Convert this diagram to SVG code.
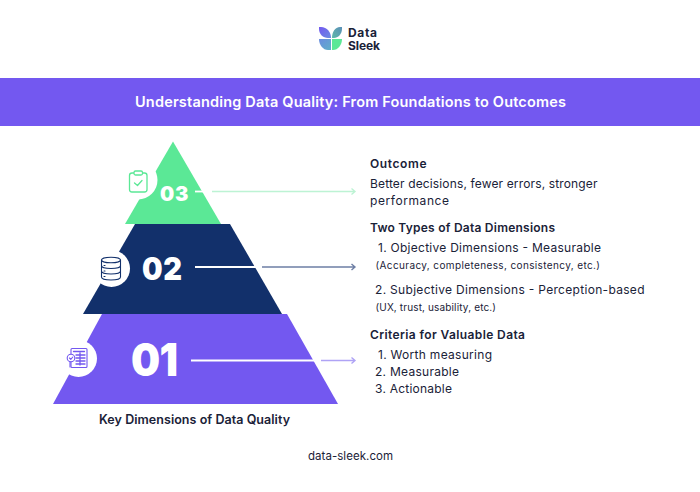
<svg xmlns="http://www.w3.org/2000/svg" width="700" height="492" viewBox="0 0 700 492">
<defs>
<linearGradient id="lg1" x1="0" y1="0" x2="1" y2="1"><stop offset="0" stop-color="#7358F0"/><stop offset="1" stop-color="#6A8CE0"/></linearGradient>
<linearGradient id="lg2" x1="1" y1="0" x2="0" y2="1"><stop offset="0" stop-color="#5A8FB8"/><stop offset="1" stop-color="#5FB8A8"/></linearGradient>
<linearGradient id="lg3" x1="0" y1="0" x2="1" y2="1"><stop offset="0" stop-color="#6A8CE0"/><stop offset="1" stop-color="#5FB0C8"/></linearGradient>
</defs>
<style>
text{font-family:"Inter","Liberation Sans",sans-serif;fill:#1A2238}
.h{font-size:12px;font-weight:600}
.b{font-size:12px;font-weight:400}
.s{font-size:10px;font-weight:400}
.n{font-weight:900;fill:#fff}
.ic{fill:none;stroke-width:1.3;stroke-linejoin:round;stroke-linecap:round}
.w{stroke:#fff;stroke-width:1.8;fill:none}
.a{fill:none;stroke-width:1.4}
</style>
<rect width="700" height="492" fill="#fff"/>
<g id="logo">
<path d="M319 27h2c6 0 10 5 10 11h-3c-5 0-9-4-9-9z" fill="url(#lg1)"/>
<path d="M342 27h-2c-5 0-8 5-8 11h2c4 0 8-4 8-9z" fill="url(#lg2)"/>
<path d="M319 39h12v11h-3c-5 0-9-5-9-11z" fill="url(#lg3)"/>
<path d="M332 39h10c0 6-4 11-9 11h-1z" fill="#5BE896"/>
<text x="348" y="36.500" textLength="29" style="font-size:12px;font-weight:700">Data</text>
<text x="348" y="50" textLength="32" style="font-size:12px;font-weight:700">Sleek</text>
</g>
<g id="banner">
<rect x="0" y="78" width="700" height="48" fill="#7358F0"/>
<text x="135" y="107" textLength="431" style="fill:#fff;font-size:14.500px;font-weight:600">Understanding Data Quality: From Foundations to Outcomes</text>
</g>
<g id="tier3">
<path d="M173 141.500L221 224H125Z" fill="#5BE896"/>
<circle cx="138" cy="180" r="19.500" fill="#fff"/>
<g class="ic" stroke="#5BE896">
<rect x="129.500" y="173" width="17.500" height="19" rx="2.500"/>
<rect x="134" y="171" width="8.500" height="4" rx="1.500" fill="#fff"/>
<path d="M134.500 183l3 2.500 4.500-5"/>
</g>
<text class="n" x="160" y="201" textLength="28.500" style="font-size:20px">03</text>
</g>
<g id="tier2">
<path d="M135 224H230L282 314H83Z" fill="#12306B"/>
<circle cx="111.500" cy="268.500" r="18.500" fill="#fff"/>
<g class="ic" stroke="#12306B" style="stroke-width:1.100">
<ellipse cx="111" cy="260" rx="9.500" ry="2.800"/>
<path d="M101.500 260v17c0 1.800 4 3 9.500 3s9.500-1.200 9.500-3v-17M101.500 265.500c0 1.800 4 3 9.500 3s9.500-1.200 9.500-3M101.500 271c0 1.800 4 3 9.500 3s9.500-1.200 9.500-3"/>
<path d="M104 265.500h1M104 271h1M104 276.500h1"/>
</g>
<text class="n" transform="translate(142 280) scale(1 1.08)" textLength="40" style="font-size:29px">02</text>
</g>
<g id="tier1">
<path d="M102 314H287L338 404H53Z" fill="#7358F0"/>
<circle cx="78.500" cy="358.500" r="18.500" fill="#fff"/>
<g class="ic" stroke="#7358F0" style="stroke-width:1.100">
<rect x="71" y="348.500" width="16" height="19" rx="1"/>
<path d="M73.500 351.500h11M76 355h9M76 358h9M76 361h9M76 364h9M80 353v12" style="stroke-width:1.300"/>
<circle cx="71" cy="358" r="3.800" fill="#fff"/>
<path d="M69.500 358l1.300 1.300 2-2.300M70 362v5"/>
</g>
<text class="n" transform="translate(131 376) scale(1 1.1)" textLength="47" style="font-size:41px">01</text>
<text x="99" y="424" textLength="191" style="font-size:12.500px;font-weight:600">Key Dimensions of Data Quality</text>
</g>
<g id="connectors">
<path class="w" d="M195 191.500H210"/>
<path class="w" d="M195 267H262"/>
<path class="w" d="M191 360.500H321"/>
<path class="a" stroke="#BDF3D4" d="M212 191.500H355M351.500 188.500L355 191.500L351.500 194.500"/>
<path class="a" stroke="#6E7FA5" d="M262 267H355M351.500 264L355 267L351.500 270"/>
<path class="a" stroke="#AFA3F5" d="M321 360.500H355M351.500 357.500L355 360.500L351.500 363.500"/>
</g>
<g id="text-outcome">
<text class="h" x="370" y="168" textLength="56.500">Outcome</text>
<text class="b" x="370" y="188" textLength="227.500">Better decisions, fewer errors, stronger</text>
<text class="b" x="370" y="205" textLength="79">performance</text>
</g>
<g id="text-dimensions">
<text class="h" x="370" y="232" textLength="185">Two Types of Data Dimensions</text>
<text class="b" x="378" y="252" textLength="223">1. Objective Dimensions - Measurable</text>
<text class="s" x="375.500" y="269" textLength="224.500">(Accuracy, completeness, consistency, etc.)</text>
<text class="b" x="375" y="294" textLength="269.500">2. Subjective Dimensions - Perception-based</text>
<text class="s" x="375.500" y="311" textLength="120.500">(UX, trust, usability, etc.)</text>
</g>
<g id="text-criteria">
<text class="h" x="370" y="339" textLength="155">Criteria for Valuable Data</text>
<text class="b" x="378" y="359" textLength="114">1. Worth measuring</text>
<text class="b" x="375" y="376" textLength="84">2. Measurable</text>
<text class="b" x="375" y="393" textLength="77">3. Actionable</text>
</g>
<g id="footer"><text x="308" y="460" textLength="85" style="font-size:11.500px">data-sleek.com</text></g>
</svg>
